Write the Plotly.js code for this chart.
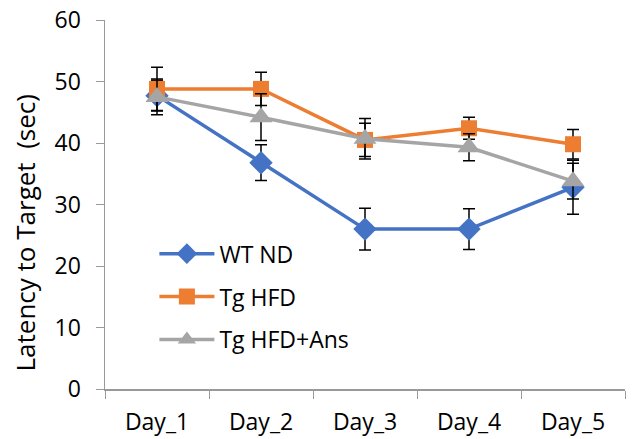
<!DOCTYPE html>
<html>
<head>
<meta charset="utf-8">
<script src="https://cdn.plot.ly/plotly-3.0.1.min.js"></script>
<style>html,body{margin:0;padding:0;background:#fff;}#chart{width:633px;height:439px;}</style>
</head>
<body>
<div id="chart"></div>
<script>
var days = ["Day_1", "Day_2", "Day_3", "Day_4", "Day_5"];
var seriesNames = ["WT ND", "Tg HFD", "Tg HFD+Ans"];
var wtND = [47.7, 36.8, 26.0, 26.0, 32.8];
var wtNDErr = [2.5, 2.9, 3.4, 3.3, 4.4];
var tgHFD = [48.8, 48.8, 40.5, 42.4, 39.8];
var tgHFDErr = [3.5, 2.7, 2.7, 1.8, 2.4];
var tgHFDAns = [47.5, 44.2, 40.7, 39.3, 33.8];
var tgHFDAnsErr = [2.9, 3.8, 3.3, 2.2, 2.9];

var colors = ["#4472C4", "#ED7D31", "#A5A5A5"];
var symbols = ["diamond", "square", "triangle-up"];
var sizes = [18, 16, 20];
var vals = [wtND, tgHFD, tgHFDAns];
var errs = [wtNDErr, tgHFDErr, tgHFDAnsErr];

var font = "'Open Sans', 'Noto Sans', sans-serif";

var traces = vals.map(function(v, i) {
  return {
    type: "scatter",
    mode: "lines+markers",
    name: seriesNames[i],
    legendgroup: "g" + i,
    x: days,
    y: v,
    line: {color: colors[i], width: 3.5},
    marker: {symbol: symbols[i], size: sizes[i], color: colors[i]},
    error_y: {type: "data", array: errs[i], visible: true, color: "#000", thickness: 1.5, width: 6}
  };
});

var layout = {
  width: 633,
  height: 439,
  margin: {l: 105, r: 8, t: 20, b: 50},
  paper_bgcolor: "#fff",
  plot_bgcolor: "#fff",
  font: {family: font, size: 23, color: "#000"},
  showlegend: true,
  legend: {
    x: 0.095, y: 0.425, xanchor: "left", yanchor: "top",
    bgcolor: "rgba(0,0,0,0)",
    font: {family: font, size: 23, color: "#000"},
    itemwidth: 55,
    tracegroupgap: 10
  },
  xaxis: {
    type: "category",
    range: [-0.5, 4.5],
    tickson: "boundaries",
    ticks: "outside",
    ticklen: 8,
    tickcolor: "#999",
    showline: true,
    linecolor: "#999",
    linewidth: 1.5,
    showgrid: false,
    zeroline: false,
    ticklabelstandoff: 12,
    tickfont: {family: font, size: 23, color: "#000"}
  },
  yaxis: {
    range: [0, 60],
    dtick: 10,
    ticks: "outside",
    ticklen: 8,
    tickcolor: "#999",
    showline: true,
    linecolor: "#999",
    linewidth: 1.5,
    showgrid: false,
    zeroline: false,
    ticklabelstandoff: 10,
    tickfont: {family: font, size: 23, color: "#000"}
  },
  annotations: [{
    text: "Latency to Target\u00a0 (sec)",
    xref: "paper", yref: "paper",
    x: -0.154, y: 0.424,
    xanchor: "center", yanchor: "middle",
    textangle: -90,
    showarrow: false,
    font: {family: font, size: 26, color: "#000"}
  }]
};

Plotly.newPlot("chart", traces, layout, {displayModeBar: false, staticPlot: true});
</script>
</body>
</html>
